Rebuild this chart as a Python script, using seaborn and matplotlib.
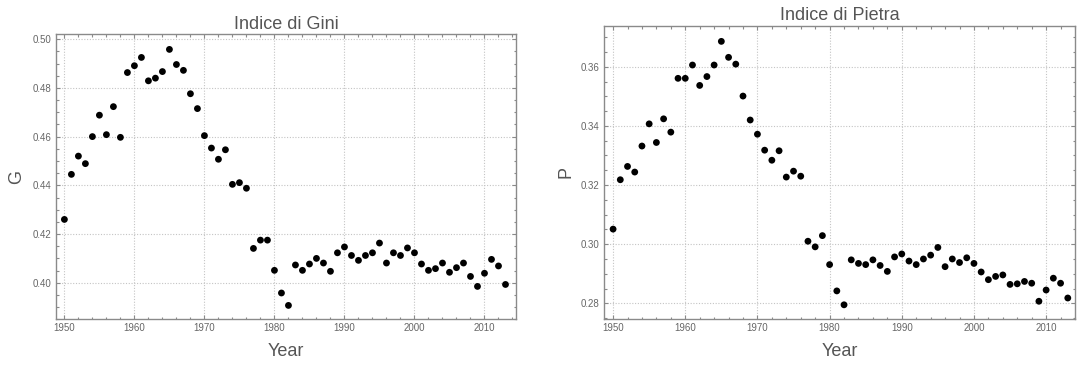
import numpy as np
import pandas as pd
import matplotlib
matplotlib.use("Agg")
import matplotlib.pyplot as plt
from matplotlib.ticker import MultipleLocator, FormatStrFormatter
import seaborn as sns

years = list(range(1950, 2014))

gini = [0.426, 0.4445, 0.452, 0.4489, 0.460, 0.4688, 0.4608, 0.4723, 0.4597, 0.4863,
        0.4891, 0.4925, 0.4829, 0.4840, 0.4867, 0.4958, 0.4896, 0.4872, 0.4776, 0.4715,
        0.4604, 0.4553, 0.4507, 0.4546, 0.4404, 0.4411, 0.4388, 0.4141, 0.4175, 0.4175,
        0.4051, 0.3958, 0.3907, 0.4073, 0.4051, 0.4077, 0.4100, 0.4081, 0.4047, 0.4123,
        0.4147, 0.4112, 0.4092, 0.4112, 0.4123, 0.4163, 0.4081, 0.4123, 0.4112, 0.4143,
        0.4123, 0.4077, 0.4051, 0.4058, 0.4081, 0.4043, 0.4062, 0.4081, 0.4026, 0.3985,
        0.4039, 0.4096, 0.4069, 0.3993]

pietra = [0.3051, 0.3218, 0.3263, 0.3244, 0.3332, 0.3407, 0.3344, 0.3424, 0.3379, 0.3561,
          0.3561, 0.3606, 0.3537, 0.3567, 0.3606, 0.3686, 0.3632, 0.3609, 0.3501, 0.3420,
          0.3372, 0.3318, 0.3284, 0.3316, 0.3227, 0.3247, 0.3230, 0.3010, 0.2991, 0.3029,
          0.2931, 0.2842, 0.2795, 0.2947, 0.2935, 0.2931, 0.2947, 0.2928, 0.2908, 0.2957,
          0.2967, 0.2943, 0.2931, 0.2950, 0.2963, 0.2989, 0.2924, 0.2950, 0.2938, 0.2954,
          0.2935, 0.2906, 0.2880, 0.2891, 0.2896, 0.2864, 0.2866, 0.2874, 0.2868, 0.2807,
          0.2845, 0.2885, 0.2868, 0.2818]

titles = ["Indice di Gini", "Indice di Pietra"]
ylabels = ["G", "P"]
xlabel = "Year"

sns.set_theme(style="white")
plt.rcParams['font.family'] = ['Liberation Sans', 'DejaVu Sans']

df = pd.DataFrame({"Year": years, "G": gini, "P": pietra})

fig = plt.figure(figsize=(10.77, 3.65), dpi=100)
ax1 = fig.add_axes([56/1077, 1-319.3/365, 460/1077, (319.3-34.3)/365])
ax2 = fig.add_axes([603.7/1077, 1-318.7/365, (1075-603.7)/1077, (318.7-25.7)/365])

text_col = "#555555"
tick_col = "#666666"
spine_col = "#8a8a8a"

specs = [
    (ax1, "G", (1948.8, 2014.5), (0.385, 0.502), 5.3),
    (ax2, "P", (1948.7, 2014.0), (0.2748, 0.3739), 4.2),
]

for (ax, col, xl, yl, ypad), title, ylab in zip(specs, titles, ylabels):
    sns.scatterplot(data=df, x="Year", y=col, ax=ax, color="black", s=24,
                    edgecolor="none", linewidth=0, zorder=3)
    ax.set_xlim(*xl)
    ax.set_ylim(*yl)
    ax.xaxis.set_major_locator(MultipleLocator(10))
    ax.xaxis.set_minor_locator(MultipleLocator(2))
    ax.yaxis.set_major_locator(MultipleLocator(0.02))
    ax.yaxis.set_minor_locator(MultipleLocator(0.005))
    ax.yaxis.set_major_formatter(FormatStrFormatter("%.2f"))
    ax.tick_params(which="both", direction="in", top=True, right=True,
                   bottom=True, left=True, color=spine_col, width=0.8,
                   labelsize=7, labelcolor=tick_col, pad=3)
    ax.tick_params(which="major", length=3)
    ax.tick_params(which="minor", length=1.8)
    ax.grid(True, which="major", color="#c4c4c4", linestyle=(0, (1, 1.5)),
            linewidth=0.8, zorder=0)
    for sp in ax.spines.values():
        sp.set_color(spine_col)
        sp.set_linewidth(1.0)
    ax.set_title(title, fontsize=13, color=text_col, pad=4)
    ax.set_xlabel(xlabel, fontsize=13, color=text_col, labelpad=7)
    ax.set_ylabel(ylab, fontsize=13, color=text_col, labelpad=ypad)

fig.savefig("out.png", dpi=100)
